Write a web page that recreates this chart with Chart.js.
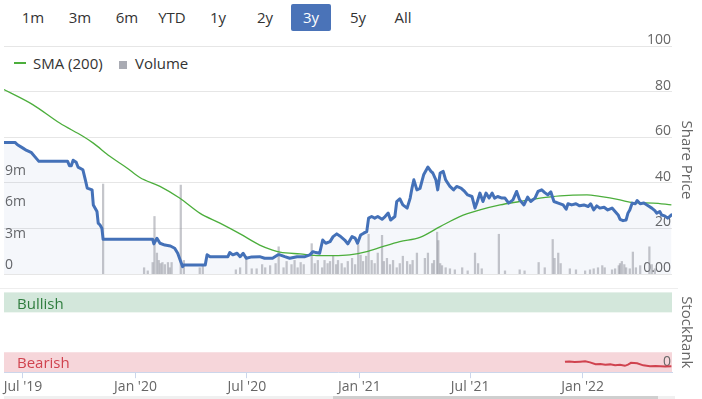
<!DOCTYPE html>
<html><head><meta charset="utf-8">
<script src="https://cdn.jsdelivr.net/npm/chart.js@4.4.1/dist/chart.umd.min.js"></script>
<style>
body{margin:0;width:702px;height:399px;overflow:hidden;background:#fff;font-family:"Open Sans",sans-serif;position:relative}
.btn{position:absolute;top:4px;height:27px;line-height:27px;width:40px;text-align:center;font-size:15px;color:#333}
.btn.sel{background:#4a73b8;color:#fff;border-radius:2px}
.lg{position:absolute;font-size:15px;line-height:18px;color:#333;top:54px;white-space:nowrap}
canvas{position:absolute;left:0}
</style></head>
<body>
<div id="buttons"></div>
<div style="position:absolute;left:14px;top:62px;width:12px;height:2px;background:#4cae3c"></div>
<div class="lg" style="left:33px">SMA (200)</div>
<div style="position:absolute;left:119px;top:61px;width:8px;height:8px;background:#a9abb3"></div>
<div class="lg" style="left:135px">Volume</div>
<canvas id="main" width="702" height="285" style="top:0"></canvas>
<div style="position:absolute;left:0;top:288px;width:678px;height:1px;background:#eeeeee"></div>
<canvas id="rank" width="702" height="114" style="top:285px"></canvas>
<div style="position:absolute;left:4px;top:396px;width:671px;height:3px;background:#f0f0f0"></div>
<div style="position:absolute;left:333px;top:396px;width:325px;height:3px;background:#cfcfcf"></div>
<script>
// ---- data ----
const rangeButtons = ['1m','3m','6m','YTD','1y','2y','3y','5y','All'];
const selectedRange = '3y';
const rangeStart = '2019-05-31', rangeEnd = '2022-05-27';

const priceDates = [
  '2019-05-31','2019-06-18','2019-06-22','2019-07-01','2019-07-07','2019-07-15','2019-07-20','2019-07-27',
  '2019-09-12','2019-09-15','2019-09-18','2019-09-21','2019-09-26','2019-09-29',
  '2019-10-07','2019-10-11','2019-10-14','2019-10-22','2019-10-24','2019-10-30',
  '2019-11-01','2019-11-04','2019-11-07','2019-11-09',
  '2020-01-29','2020-01-31','2020-02-05','2020-02-10','2020-02-18','2020-02-27',
  '2020-03-05','2020-03-10','2020-03-15','2020-03-18','2020-03-20','2020-04-24','2020-04-27',
  '2020-05-02','2020-05-31','2020-06-03','2020-06-08','2020-06-15','2020-06-20','2020-06-25','2020-06-30',
  '2020-07-09','2020-07-22','2020-07-30','2020-08-12','2020-08-21','2020-08-24',
  '2020-09-01','2020-09-09','2020-09-21','2020-10-04','2020-10-12','2020-10-17','2020-10-22','2020-10-28',
  '2020-11-02','2020-11-07','2020-11-14','2020-11-19','2020-11-25','2020-11-30',
  '2020-12-08','2020-12-13','2020-12-20','2020-12-25','2020-12-29',
  '2021-01-03','2021-01-08','2021-01-13','2021-01-16','2021-01-21','2021-01-26','2021-01-31',
  '2021-02-07','2021-02-12','2021-02-17','2021-02-21','2021-02-28',
  '2021-03-03','2021-03-08','2021-03-13','2021-03-20','2021-03-25','2021-03-28','2021-03-31',
  '2021-04-05','2021-04-10','2021-04-16','2021-04-23','2021-04-28',
  '2021-05-01','2021-05-06','2021-05-09','2021-05-13','2021-05-18','2021-05-22','2021-05-29',
  '2021-06-04','2021-06-09','2021-06-16','2021-06-22','2021-06-27',
  '2021-07-04','2021-07-09','2021-07-12','2021-07-17','2021-07-22','2021-07-27',
  '2021-08-01','2021-08-06','2021-08-10','2021-08-15','2021-08-22','2021-08-27',
  '2021-09-02','2021-09-09','2021-09-15','2021-09-20','2021-09-27',
  '2021-10-03','2021-10-08','2021-10-15','2021-10-20','2021-10-26','2021-10-31',
  '2021-11-05','2021-11-10','2021-11-15','2021-11-22','2021-11-30',
  '2021-12-05','2021-12-08','2021-12-14','2021-12-21','2021-12-27',
  '2022-01-03','2022-01-10','2022-01-14','2022-01-19','2022-01-24','2022-01-29',
  '2022-02-05','2022-02-11','2022-02-18','2022-02-23','2022-02-28',
  '2022-03-03','2022-03-08','2022-03-13','2022-03-16','2022-03-19','2022-03-23','2022-03-28','2022-03-31',
  '2022-04-05','2022-04-11','2022-04-18','2022-04-24','2022-04-29',
  '2022-05-02','2022-05-07','2022-05-10','2022-05-15','2022-05-20','2022-05-23','2022-05-26'
];
const priceValues = [
  57.7,57.7,56.7,55.2,54.2,53.2,51.6,49.4,
  49.4,47.5,47.5,49.9,49.0,46.9,
  45.7,41.3,37.7,36.9,30.3,27.4,
  22.3,21.5,20.1,15.2,
  15.2,13.2,15.7,13.5,12.7,12.3,
  11.3,9.1,5.4,3.2,4.0,4.0,8.4,
  7.6,7.6,9.4,8.4,9.1,7.6,9.1,6.9,
  7.5,7.6,6.9,6.9,8.4,8.4,
  7.6,6.9,7.6,7.6,8.4,9.8,9.4,9.1,
  14.9,13.5,14.2,16.4,17.6,16.7,
  14.9,13.2,16.4,15.7,13.5,
  17.1,17.9,18.6,24.5,25.2,24.5,25.2,
  24.0,25.2,26.7,23.7,25.2,
  31.8,33.0,30.3,28.9,33.3,37.7,41.3,
  36.9,37.5,43.5,46.9,45.0,
  44.3,41.3,36.9,44.3,45.0,41.3,38.4,
  36.9,38.4,37.7,36.2,34.7,
  34.0,28.9,31.1,35.5,31.8,35.5,
  33.3,35.5,33.3,34.0,33.3,33.3,
  31.1,32.5,36.2,32.5,30.3,
  33.7,31.8,33.3,36.2,36.9,35.7,
  34.7,36.0,31.8,31.1,30.3,
  28.4,30.8,30.3,30.8,29.9,
  30.3,29.6,30.8,28.1,29.9,28.9,
  29.3,28.1,28.9,27.4,25.9,
  24.0,23.4,23.7,26.7,28.1,31.1,30.8,32.2,
  30.8,31.1,29.9,28.9,27.8,
  26.7,27.4,25.9,25.5,24.5,25.2,25.9
];

const smaDates = ['2019-05-31','2019-07-17','2019-08-30','2019-10-07','2019-10-24','2019-11-20','2019-12-18',
  '2020-01-08','2020-02-10','2020-03-13','2020-04-15','2020-05-18','2020-06-20','2020-07-22','2020-08-12',
  '2020-08-24','2020-09-26','2020-10-28','2020-11-19','2020-12-16','2021-01-13','2021-02-08','2021-03-08',
  '2021-04-10','2021-05-13','2021-06-14','2021-07-17','2021-08-19','2021-09-20','2021-10-23','2021-11-25',
  '2022-01-08','2022-01-29','2022-03-03','2022-03-24','2022-04-26','2022-05-26'];
const smaValues = [80.9,74.3,66.2,60.4,57.4,51.6,46.5,
  42.3,38.4,33.3,26.7,22.3,17.6,12.7,10.5,
  9.6,8.8,8.1,8.1,8.4,9.8,12.0,14.2,
  16.1,20.8,25.2,28.1,30.3,31.8,33.3,34.3,
  34.7,34.0,32.5,31.3,31.1,30.3];

// volume in millions
const volumeDates = [
  '2019-11-09',
  '2020-01-15','2020-01-21','2020-01-29','2020-02-01','2020-02-05','2020-02-08','2020-02-11','2020-02-14',
  '2020-02-18','2020-02-23','2020-02-26','2020-02-29','2020-03-15','2020-03-20','2020-04-15','2020-04-20',
  '2020-06-13','2020-06-20','2020-06-30','2020-07-09','2020-07-17','2020-07-26','2020-07-31',
  '2020-08-08','2020-08-17','2020-08-22','2020-08-30','2020-09-04','2020-09-12','2020-09-17','2020-09-22',
  '2020-09-27','2020-10-02','2020-10-15','2020-10-20','2020-10-25','2020-11-01','2020-11-05','2020-11-10',
  '2020-11-14','2020-11-19','2020-11-24','2020-11-27','2020-12-03','2020-12-08','2020-12-13','2020-12-20',
  '2020-12-25','2020-12-30',
  '2021-01-03','2021-01-07','2021-01-12','2021-01-16','2021-01-21','2021-01-26','2021-01-31',
  '2021-02-07','2021-02-10','2021-02-15','2021-02-20','2021-02-25','2021-03-03','2021-03-08','2021-03-13',
  '2021-03-20','2021-03-25','2021-03-29','2021-04-05','2021-04-18','2021-04-23','2021-04-30',
  '2021-05-03','2021-05-08','2021-05-10','2021-05-13','2021-05-16','2021-05-22','2021-05-29',
  '2021-06-06','2021-06-18','2021-06-27','2021-07-09','2021-07-14','2021-07-20','2021-08-17','2021-08-27',
  '2021-09-20','2021-09-28','2021-10-21','2021-10-31','2021-11-13','2021-11-16','2021-11-22','2021-11-26',
  '2021-12-11','2021-12-21',
  '2022-01-05','2022-01-13','2022-01-19','2022-01-26','2022-02-02','2022-02-06','2022-02-18','2022-02-23',
  '2022-03-01','2022-03-03','2022-03-06','2022-03-10','2022-03-13','2022-03-19','2022-03-24','2022-03-29',
  '2022-04-05','2022-04-20','2022-04-24','2022-04-29'
];
const volumeValues = [
  8.6,
  0.6,0.3,1.1,5.5,2.0,1.3,1.0,1.1,
  0.9,1.1,0.6,1.1,8.5,1.3,0.6,0.9,
  0.4,0.6,1.5,0.5,0.5,0.9,0.6,
  0.8,1.0,2.6,0.6,1.2,0.9,1.3,0.6,
  1.1,0.9,2.9,1.0,1.3,0.6,1.3,1.0,
  1.2,1.7,0.9,1.3,1.0,0.6,1.2,1.5,
  0.9,2.8,
  1.8,1.2,1.7,3.8,1.3,1.0,2.0,
  3.7,1.2,1.5,0.9,1.3,0.6,1.0,1.7,
  1.2,0.9,1.3,2.0,1.5,2.0,1.0,
  1.3,4.0,3.2,1.0,0.8,0.6,0.5,
  0.4,0.6,0.3,2.0,1.0,0.5,3.8,0.3,
  0.4,0.3,1.1,0.6,3.3,1.5,2.0,1.0,
  0.5,0.4,
  0.3,0.4,0.5,0.6,0.8,0.6,0.4,0.5,
  0.8,1.0,1.2,0.9,0.6,0.5,2.1,0.6,
  0.8,2.6,0.9,0.5
];

const rankDates = ['2021-12-03','2021-12-10','2021-12-19','2021-12-28','2022-01-05','2022-01-13','2022-01-22',
  '2022-01-30','2022-02-07','2022-02-15','2022-02-23','2022-03-03','2022-03-11','2022-03-16','2022-03-21',
  '2022-03-31','2022-04-10','2022-04-21','2022-04-30','2022-05-08','2022-05-16','2022-05-26'];
const rankValues = [13,13.5,12.8,13.2,13.6,12.3,9.9,10.4,9.3,9.8,8.6,9.2,8.0,9.5,11.7,11.1,8.6,7.4,7.9,7.4,7.0,7.4];

const bandLabels = ['Bullish','Bearish'];
const bandFrom = [75, 0];
const bandTo = [100, 25];

const priceTicks = [0,20,40,60,80,100];
const volumeTicks = [0,3,6,9];
const rankTicks = [0];
const xTickDates = ['2019-07-01','2020-01-01','2020-07-01','2021-01-01','2021-07-01','2022-01-01'];
const xTickLabels = ["Jul '19","Jan '20","Jul '20","Jan '21","Jul '21","Jan '22"];

// ---- helpers ----
const base = Date.UTC(2019,4,31);
function day(s){const [y,m,d]=s.split('-').map(Number);return (Date.UTC(y,m-1,d)-base)/864e5;}
const pts=(ds,vs)=>ds.map((d,i)=>({x:day(d),y:vs[i]}));

// buttons
const btnCenters=[33,80,127,172,218,265,311,358,403];
const bc=document.getElementById('buttons');
rangeButtons.forEach((b,i)=>{const e=document.createElement('div');e.className='btn'+(b===selectedRange?' sel':'');
  e.textContent=b;e.style.left=(btnCenters[i]-20)+'px';bc.appendChild(e);});

const FONT='"Open Sans", sans-serif';
const tickFont={size:14,family:FONT};
const AXIS_W=30;

new Chart(document.getElementById('main'),{
  type:'line',
  data:{datasets:[
    {type:'line',label:'Price',data:pts(priceDates,priceValues),yAxisID:'price',borderColor:'#4471b8',borderWidth:3,
     pointRadius:0,fill:'origin',backgroundColor:'rgba(68,113,184,0.055)',tension:0,borderJoinStyle:'round',borderCapStyle:'round',order:0},
    {type:'line',label:'SMA (200)',data:pts(smaDates,smaValues),yAxisID:'price',borderColor:'#4cae3c',borderWidth:1.3,
     pointRadius:0,fill:false,cubicInterpolationMode:'monotone',order:1},
    {type:'bar',label:'Volume',data:pts(volumeDates,volumeValues),yAxisID:'vol',backgroundColor:'rgba(150,152,160,0.55)',
     barThickness:1.6,order:2}
  ]},
  options:{
    responsive:false,animation:false,devicePixelRatio:1,
    layout:{padding:{left:3,top:46,right:0,bottom:11}},
    plugins:{legend:{display:false},tooltip:{enabled:false},filler:{drawTime:'beforeDatasetsDraw'}},
    scales:{
      x:{type:'linear',display:false,offset:false,min:day(rangeStart),max:day(rangeEnd)},
      vol:{position:'left',min:0,max:21.8,grid:{display:false},border:{display:false},
        afterBuildTicks:s=>{s.ticks=volumeTicks.map(v=>({value:v}));},
        afterFit:s=>{s.width=1;},
        ticks:{mirror:true,padding:1,labelOffset:-9,color:'#666',font:tickFont,callback:v=>v===0?'0':v+'m'}},
      price:{position:'right',min:0,max:100,grid:{color:'#e6e6e6',drawTicks:false},border:{display:false},
        afterBuildTicks:s=>{s.ticks=priceTicks.map(v=>({value:v}));},
        afterFit:s=>{s.width=AXIS_W;},
        ticks:{mirror:true,padding:-1,labelOffset:-6,color:'#666',font:tickFont,callback:v=>v===0?'0.00':String(v)},
        title:{display:true,text:'Share Price',color:'#666',font:{size:15,family:FONT},padding:{top:7,bottom:6}}}
    }
  }
});

const bandColors=['#d3e7db','#f6d6da'];
const bandTextColors=['#2f7d3e','#d0434f'];
const bandPlugin={id:'bands',beforeDraw(chart){
  const {ctx,chartArea:a,scales:{rank}}=chart;
  ctx.save();
  bandFrom.forEach((f,i)=>{
    const y1=rank.getPixelForValue(bandTo[i]),y2=rank.getPixelForValue(f);
    ctx.fillStyle=bandColors[i];ctx.fillRect(a.left,y1,a.right-a.left,y2-y1);
    ctx.fillStyle=bandTextColors[i];ctx.font='15px '+FONT;ctx.textBaseline='middle';ctx.textAlign='left';
    ctx.fillText(bandLabels[i],a.left+13,(y1+y2)/2+2);
  });
  ctx.restore();
}};

new Chart(document.getElementById('rank'),{
  type:'line',
  data:{datasets:[
    {label:'StockRank',data:pts(rankDates,rankValues),yAxisID:'rank',borderColor:'#d0434f',borderWidth:2,pointRadius:0,fill:false,tension:0}
  ]},
  plugins:[bandPlugin],
  options:{
    responsive:false,animation:false,devicePixelRatio:1,
    layout:{padding:{left:4,top:6,right:0,bottom:4}},
    plugins:{legend:{display:false},tooltip:{enabled:false}},
    scales:{
      x:{type:'linear',offset:false,min:day(rangeStart),max:day(rangeEnd),
        afterBuildTicks:s=>{s.ticks=xTickDates.map(d=>({value:day(d)}));},
        grid:{drawOnChartArea:false,drawTicks:true,tickLength:6,color:'#ccd6eb'},border:{display:true,color:'#ccd6eb'},
        ticks:{autoSkip:false,maxRotation:0,padding:0,color:'#666',font:tickFont,
          callback:(v)=>{const i=xTickDates.findIndex(d=>day(d)===v);return i>=0?xTickLabels[i]:'';}}},
      rank:{position:'right',min:0,max:100,z:1,grid:{display:false},border:{display:false},
        afterBuildTicks:s=>{s.ticks=rankTicks.map(v=>({value:v}));},
        afterFit:s=>{s.width=AXIS_W;},
        ticks:{mirror:true,padding:-1,labelOffset:-10,color:'#666',font:tickFont,callback:v=>String(v)},
        title:{display:true,text:'StockRank',color:'#666',font:{size:15,family:FONT},padding:{top:7,bottom:6}}}
    }
  }
});
</script>
</body></html>
